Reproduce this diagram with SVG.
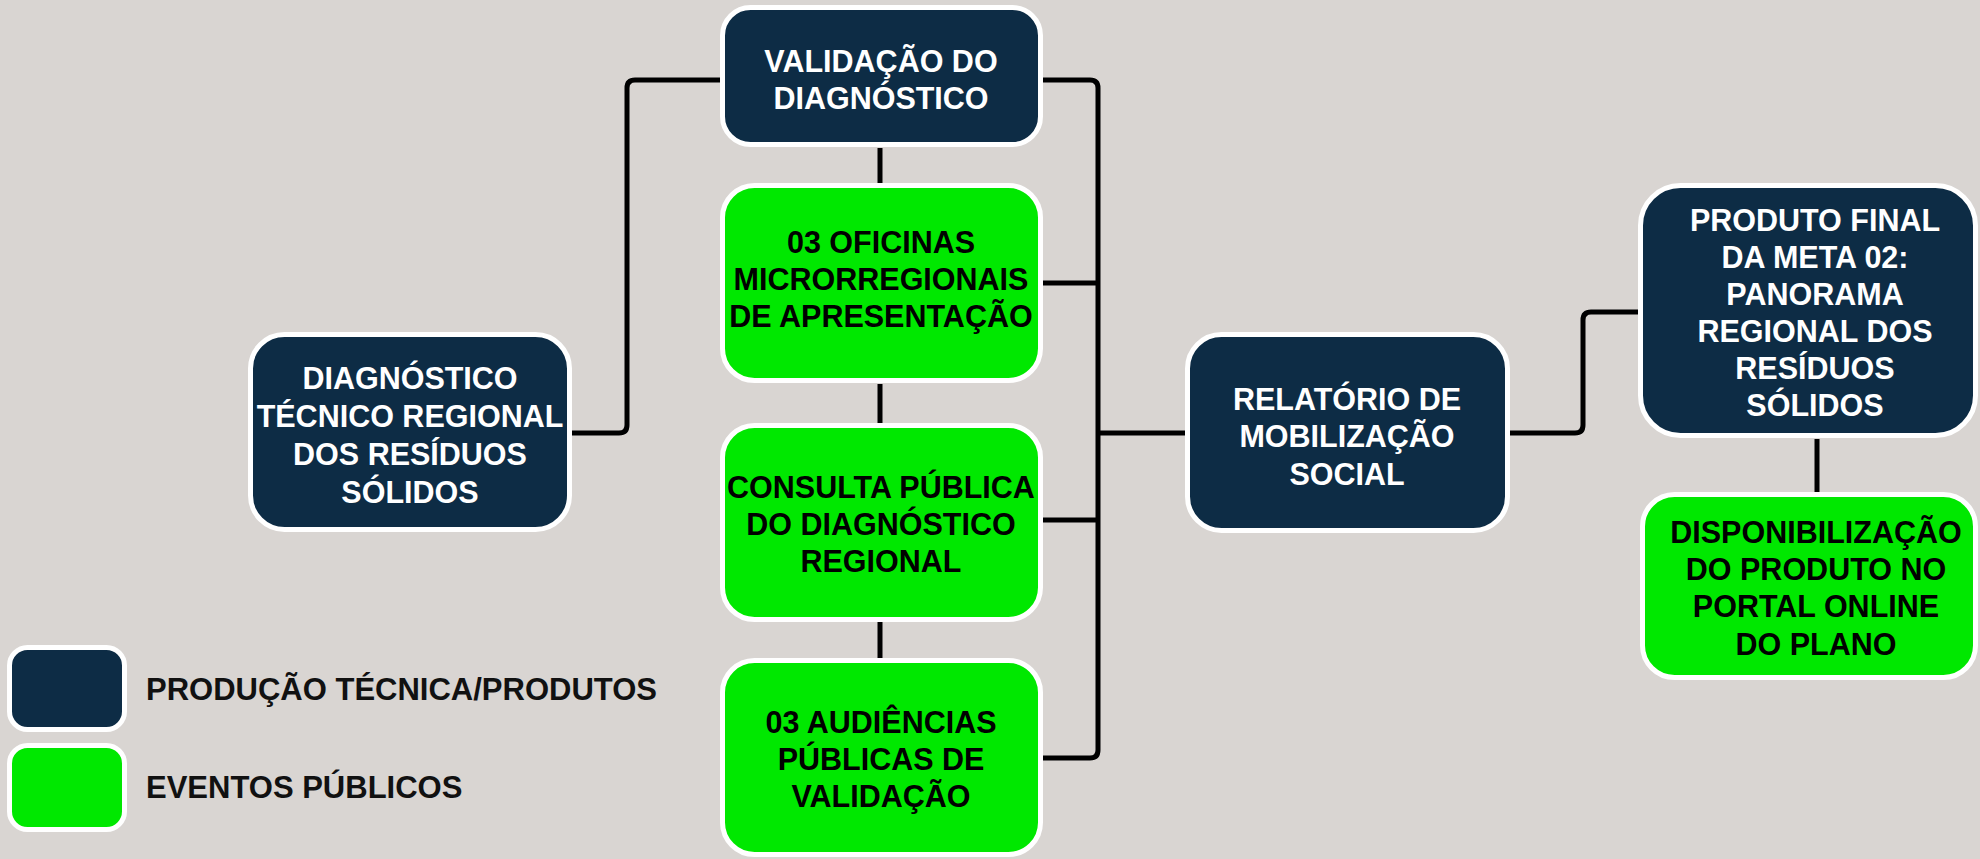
<svg xmlns="http://www.w3.org/2000/svg" width="1980" height="859" viewBox="0 0 1980 859">
<style>
.bg{fill:#d9d5d2}
.dark{fill:#0d2c45;stroke:#ffffff;stroke-width:5}
.green{fill:#00e800;stroke:#ffffff;stroke-width:5}
.tw{fill:#ffffff;font-family:"Liberation Sans",Arial,sans-serif;font-weight:bold;font-size:30.5px;text-anchor:middle}
.tb{fill:#000000;font-family:"Liberation Sans",Arial,sans-serif;font-weight:bold;font-size:30.5px;text-anchor:middle}
.leg{fill:#111111;font-family:"Liberation Sans",Arial,sans-serif;font-weight:bold;font-size:31px}
.conn{fill:none;stroke:#000000;stroke-width:5;stroke-linejoin:round}
</style>
<rect class="bg" x="0" y="0" width="1980" height="859"/>
<g id="connectors">
<path class="conn" d="M572 433 H619 Q627 433 627 425 V88 Q627 80 635 80 H720"/>
<path class="conn" d="M1043 80 H1090 Q1098 80 1098 88 V750 Q1098 758 1090 758 H1043"/>
<path class="conn" d="M1043 283 H1098"/>
<path class="conn" d="M1043 520 H1098"/>
<path class="conn" d="M1098 433 H1185"/>
<path class="conn" d="M1510 433 H1575 Q1583 433 1583 425 V320 Q1583 312 1591 312 H1638"/>
<path class="conn" d="M880 148 V183"/>
<path class="conn" d="M880 384 V423"/>
<path class="conn" d="M880 622 V658"/>
<path class="conn" d="M1817 439 V492"/>
</g>
<g id="validacao">
<rect class="dark" x="722.5" y="7.5" width="318" height="137" rx="28"/>
<text class="tw" x="881" y="72">VALIDAÇÃO DO</text>
<text class="tw" x="881" y="109">DIAGNÓSTICO</text>
</g>
<g id="oficinas">
<rect class="green" x="722.5" y="185.5" width="318" height="195" rx="32"/>
<text class="tb" x="881" y="253">03 OFICINAS</text>
<text class="tb" x="881" y="290">MICRORREGIONAIS</text>
<text class="tb" x="881" y="327">DE APRESENTAÇÃO</text>
</g>
<g id="consulta">
<rect class="green" x="722.5" y="425.5" width="318" height="194" rx="32"/>
<text class="tb" x="881" y="498">CONSULTA PÚBLICA</text>
<text class="tb" x="881" y="535">DO DIAGNÓSTICO</text>
<text class="tb" x="881" y="572">REGIONAL</text>
</g>
<g id="audiencias">
<rect class="green" x="722.5" y="660.5" width="318" height="194" rx="32"/>
<text class="tb" x="881" y="733">03 AUDIÊNCIAS</text>
<text class="tb" x="881" y="770">PÚBLICAS DE</text>
<text class="tb" x="881" y="807">VALIDAÇÃO</text>
</g>
<g id="diagnostico">
<rect class="dark" x="250.5" y="334.5" width="319" height="195" rx="34"/>
<text class="tw" x="410" y="389">DIAGNÓSTICO</text>
<text class="tw" x="410" y="427">TÉCNICO REGIONAL</text>
<text class="tw" x="410" y="465">DOS RESÍDUOS</text>
<text class="tw" x="410" y="503">SÓLIDOS</text>
</g>
<g id="relatorio">
<rect class="dark" x="1187.5" y="334.5" width="320" height="196" rx="34"/>
<text class="tw" x="1347" y="410">RELATÓRIO DE</text>
<text class="tw" x="1347" y="447">MOBILIZAÇÃO</text>
<text class="tw" x="1347" y="485">SOCIAL</text>
</g>
<g id="produto-final">
<rect class="dark" x="1640.5" y="185.5" width="335" height="250" rx="40"/>
<text class="tw" x="1815" y="231">PRODUTO FINAL</text>
<text class="tw" x="1815" y="268">DA META 02:</text>
<text class="tw" x="1815" y="305">PANORAMA</text>
<text class="tw" x="1815" y="342">REGIONAL DOS</text>
<text class="tw" x="1815" y="379">RESÍDUOS</text>
<text class="tw" x="1815" y="416">SÓLIDOS</text>
</g>
<g id="disponibilizacao">
<rect class="green" x="1642.5" y="494.5" width="333" height="183" rx="32"/>
<text class="tb" x="1816" y="543">DISPONIBILIZAÇÃO</text>
<text class="tb" x="1816" y="580">DO PRODUTO NO</text>
<text class="tb" x="1816" y="617">PORTAL ONLINE</text>
<text class="tb" x="1816" y="655">DO PLANO</text>
</g>
<g id="legend">
<rect class="dark" x="9.5" y="647.5" width="115" height="82" rx="18"/>
<text class="leg" x="146" y="700">PRODUÇÃO TÉCNICA/PRODUTOS</text>
<rect class="green" x="9.5" y="745.5" width="115" height="84" rx="18"/>
<text class="leg" x="146" y="798">EVENTOS PÚBLICOS</text>
</g>
</svg>
